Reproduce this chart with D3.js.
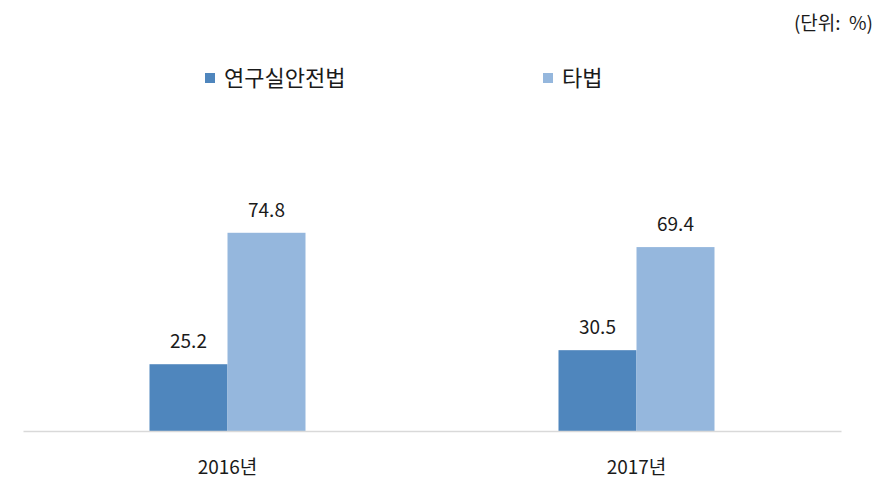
<!DOCTYPE html>
<html>
<head>
<meta charset="utf-8">
<script src="https://cdn.jsdelivr.net/npm/d3@7"></script>
<style>
  body { margin: 0; background: #fff; }
  text { font-family: "Noto Sans CJK KR", "Malgun Gothic", sans-serif; fill: #1a1a1a; }
</style>
</head>
<body>
<svg id="chart"></svg>
<script>
const years = ["2016년", "2017년"]
const series = ["연구실안전법", "타법"]
const lab = [25.2, 30.5]
const other = [74.8, 69.4]
const colors = ["#4f86bd", "#95b7dd"]
const unitLabel = "(단위:  %)"

const w = 884, h = 497
const m = {l: 23, r: 43, base: 431}

const svg = d3.select("#chart")
    .attr("width", w)
    .attr("height", h)

const x0 = d3.scaleBand()
    .domain(years)
    .range([m.l, w - m.r])

const groupW = 156
const x1 = d3.scaleBand()
    .domain(series)
    .range([0, groupW])

const y = d3.scaleLinear()
    .domain([0, 100])
    .range([m.base, m.base - 265])

const rows = years.map((yr, i) => ({year: yr, values: [lab[i], other[i]]}))

const groups = svg.selectAll("g.grp")
    .data(rows)
    .join("g")
    .attr("class", "grp")
    .attr("transform", d => `translate(${x0(d.year) + x0.bandwidth() / 2 - groupW / 2},0)`)

groups.selectAll("rect")
    .data(d => d.values.map((v, j) => ({s: series[j], v, j})))
    .join("rect")
    .attr("x", d => x1(d.s))
    .attr("width", x1.bandwidth())
    .attr("y", d => y(d.v))
    .attr("height", d => y(0) - y(d.v))
    .attr("fill", d => colors[d.j])

groups.selectAll("text.val")
    .data(d => d.values.map((v, j) => ({s: series[j], v})))
    .join("text")
    .attr("class", "val")
    .attr("x", d => x1(d.s) + x1.bandwidth() / 2)
    .attr("y", d => y(d.v) - 16)
    .attr("text-anchor", "middle")
    .style("font-size", "19px")
    .text(d => d.v.toFixed(1))

// baseline axis
const xAxis = svg.append("g")
    .attr("transform", `translate(0,${m.base})`)
    .call(d3.axisBottom(x0).tickSize(0).tickPadding(30))

xAxis.select(".domain").attr("stroke", "#d9d9d9").attr("stroke-width", 1.5)
xAxis.selectAll("text")
    .style("font-size", "19px")
    .style("font-family", "\"Noto Sans CJK KR\", sans-serif")
    .attr("fill", "#1a1a1a")

// legend
const legendX = [205, 543]
const legend = svg.selectAll("g.leg")
    .data(series)
    .join("g")
    .attr("class", "leg")
    .attr("transform", (d, i) => `translate(${legendX[i]},73)`)

legend.append("rect")
    .attr("width", 10)
    .attr("height", 10)
    .attr("fill", (d, i) => colors[i])

legend.append("text")
    .attr("x", 19)
    .attr("y", 13)
    .style("font-size", "22px")
    .text(d => d)

svg.append("text")
    .attr("x", 873)
    .attr("y", 30)
    .attr("text-anchor", "end")
    .style("font-size", "19px")
    .style("white-space", "pre")
    .attr("xml:space", "preserve")
    .text(unitLabel)
</script>
</body>
</html>
